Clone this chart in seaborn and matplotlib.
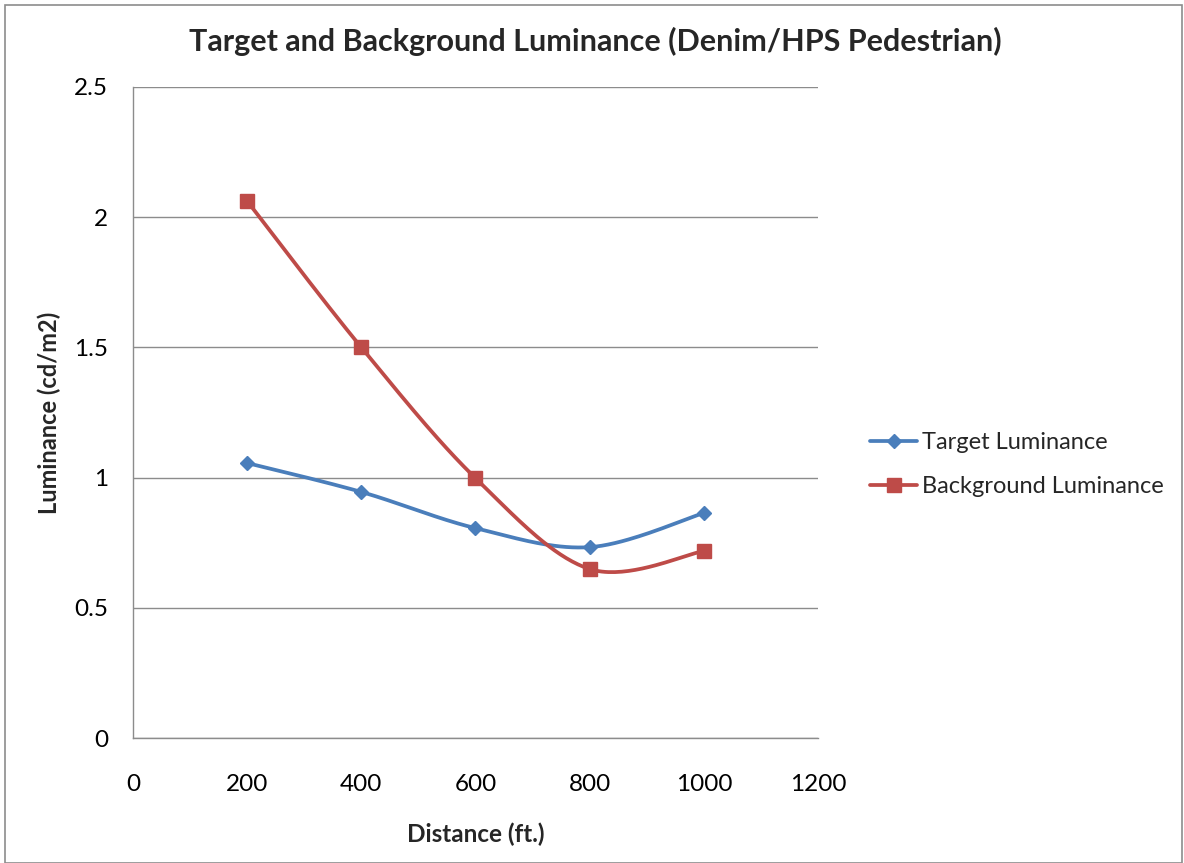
import numpy as np
import pandas as pd
import matplotlib
matplotlib.use("Agg")
import matplotlib.pyplot as plt
from matplotlib.lines import Line2D
from matplotlib.patches import Rectangle
import seaborn as sns

# data
distance = [200, 400, 600, 800, 1000]
target_lum = [1.056, 0.945, 0.806, 0.733, 0.864]
background_lum = [2.062, 1.500, 0.998, 0.649, 0.718]

series_names = ["Target Luminance", "Background Luminance"]
series_colors = ["#4A7EBB", "#BE4B48"]
series_markers = ["D", "s"]
series_msize = [7, 9.5]


def smooth(x, y, n=40):
    # Catmull-Rom style bezier, similar to the Excel "smoothed line" option
    x = np.asarray(x, float)
    y = np.asarray(y, float)
    px = np.concatenate([[x[0]], x, [x[-1]]])
    py = np.concatenate([[y[0]], y, [y[-1]]])
    xs, ys = [], []
    t = np.linspace(0, 1, n)
    for i in range(1, len(px) - 2):
        p0 = np.array([px[i], py[i]])
        p3 = np.array([px[i + 1], py[i + 1]])
        c1 = p0 + (np.array([px[i + 1], py[i + 1]]) - np.array([px[i - 1], py[i - 1]])) / 6
        c2 = p3 - (np.array([px[i + 2], py[i + 2]]) - np.array([px[i], py[i]])) / 6
        b = ((1 - t) ** 3)[:, None] * p0 + (3 * (1 - t) ** 2 * t)[:, None] * c1 \
            + (3 * (1 - t) * t ** 2)[:, None] * c2 + (t ** 3)[:, None] * p3
        xs.extend(b[:, 0])
        ys.extend(b[:, 1])
    return xs, ys


sns.set_style("white")
plt.rcParams["font.family"] = ["Lato", "DejaVu Sans"]

fig = plt.figure(figsize=(11.84, 8.63), dpi=100)
ax = fig.add_axes([0.1123, 0.1448, 0.5786, 0.7544])

handles = []
for name, vals, col, mk, ms in zip(series_names, [target_lum, background_lum],
                                   series_colors, series_markers, series_msize):
    sx, sy = smooth(distance, vals)
    curve = pd.DataFrame({"x": sx, "y": sy})
    sns.lineplot(data=curve, x="x", y="y", sort=False, estimator=None,
                 color=col, lw=2.7, ax=ax, zorder=3)
    pts = pd.DataFrame({"Distance": distance, "Luminance": vals})
    ax.plot(pts["Distance"], pts["Luminance"], linestyle="none", marker=mk,
            markersize=ms, color=col, zorder=4)
    handles.append(Line2D([0], [0], color=col, lw=2.7, marker=mk, markersize=ms))

ax.set_xlim(0, 1200)
ax.set_ylim(0, 2.5)
ax.set_xticks(range(0, 1201, 200))
ax.set_yticks([0, 0.5, 1, 1.5, 2, 2.5])
ax.set_yticklabels(["0", "0.5", "1", "1.5", "2", "2.5"])
ax.yaxis.grid(True, color="#8C8C8C", lw=1)
ax.set_axisbelow(True)
for s in ["top", "right"]:
    ax.spines[s].set_visible(False)
for s in ["left", "bottom"]:
    ax.spines[s].set_color("#8C8C8C")
    ax.spines[s].set_linewidth(1)
ax.tick_params(axis="both", which="major", direction="out", length=6,
               color="#8C8C8C", labelsize=17.5, labelcolor="black")
ax.tick_params(axis="x", pad=20)
ax.tick_params(axis="y", pad=12)

ax.set_xlabel("Distance (ft.)", fontsize=17.5, fontweight="bold", labelpad=20)
ax.set_ylabel("Luminance (cd/m2)", fontsize=17, fontweight="bold", labelpad=9)
fig.text(0.503, 0.952, "Target and Background Luminance (Denim/HPS Pedestrian)",
         ha="center", va="center", fontsize=22, fontweight="bold")

ax.legend(handles, series_names, loc="center left", bbox_to_anchor=(1.045, 0.42),
          frameon=False, fontsize=17, handlelength=2.0, handletextpad=0.2,
          labelspacing=0.95)

fig.patches.append(Rectangle((0.004, 0.0), 0.994, 0.994, transform=fig.transFigure,
                             fill=False, edgecolor="#8C8C8C", lw=1.2))

fig.savefig("out.png", dpi=100)
